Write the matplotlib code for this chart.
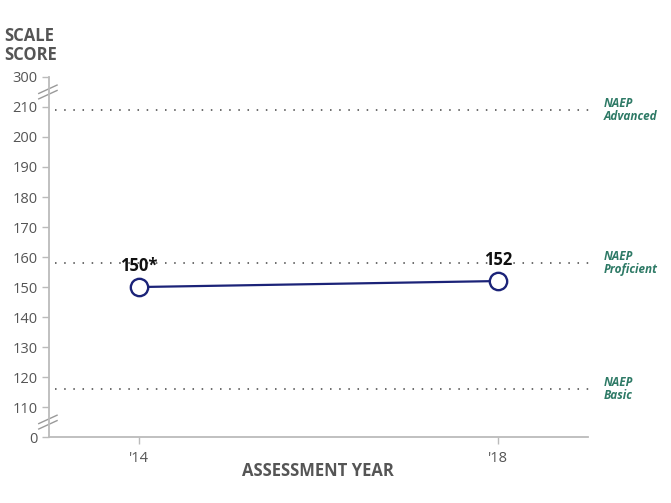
import matplotlib
matplotlib.use("Agg")
import matplotlib.pyplot as plt

plt.rcParams["font.family"] = ["Open Sans", "DejaVu Sans"]

TEXT = "#555555"
EDGE = "#BBBBBB"
LINE = "#1B2378"
GREEN = "#2E7A66"

years = [2014, 2018]
year_labels = ["'14", "'18"]
scores = [150, 152]
score_labels = ["150*", "152"]

level_names = ["NAEP\nAdvanced", "NAEP\nProficient", "NAEP\nBasic"]
level_scores = [209, 158, 116]

# broken axis: 0 and 300 sit one step outside the 110-210 range
tick_values = [0, 110, 120, 130, 140, 150, 160, 170, 180, 190, 200, 210, 300]
tick_pos = [100, 110, 120, 130, 140, 150, 160, 170, 180, 190, 200, 210, 220]

fig = plt.figure(figsize=(6.71, 5.03), dpi=100)
ax = fig.add_axes([0.073, 0.131, 0.803, 0.716])
ax.set_xlim(2013, 2019)
ax.set_ylim(100, 220)

for spine in ["top", "right"]:
    ax.spines[spine].set_visible(False)
for spine in ["left", "bottom"]:
    ax.spines[spine].set_color(EDGE)
    ax.spines[spine].set_linewidth(1.3)

ax.set_yticks(tick_pos)
ax.set_yticklabels([str(v) for v in tick_values])
ax.set_xticks(years)
ax.set_xticklabels(year_labels)
ax.tick_params(axis="both", colors=EDGE, labelcolor=TEXT, labelsize=10.5, length=5, width=1)
ax.tick_params(axis="y", pad=3)
ax.tick_params(axis="x", pad=5)

for lvl, name in zip(level_scores, level_names):
    ax.plot([2013.07, 2019.03], [lvl, lvl], color="#444444", linestyle=(0, (1, 5)),
            linewidth=1.1, clip_on=False)
    ax.text(2019.18, lvl, name, color=GREEN, fontsize=8.5, fontweight="bold",
            style="italic", va="center", ha="left", linespacing=0.95)

ax.plot(years, scores, color=LINE, linewidth=1.6, zorder=3)
ax.plot(years, scores, linestyle="none", marker="o", markersize=12.5,
        markerfacecolor="white", markeredgecolor=LINE, markeredgewidth=1.7, zorder=4)
for x, y, lab in zip(years, scores, score_labels):
    ax.text(x, y + 4, lab, ha="center", va="bottom", fontsize=12,
            fontweight="bold", color="#111111")

# break marks on the y axis
for yb in [215, 105]:
    for off in [-0.9, 0.9]:
        ax.plot([-0.019, 0.015], [yb + off - 1.4, yb + off + 1.4],
                transform=ax.get_yaxis_transform(), color="#9A9A9A",
                linewidth=1, clip_on=False)

fig.text(0.006, 0.873, "SCALE\nSCORE", fontsize=12, fontweight="bold",
         color=TEXT, ha="left", va="bottom", linespacing=1.05)
fig.text(0.474, 0.063, "ASSESSMENT YEAR", fontsize=12, fontweight="bold",
         color=TEXT, ha="center", va="center")

fig.savefig("out.png", dpi=100)
